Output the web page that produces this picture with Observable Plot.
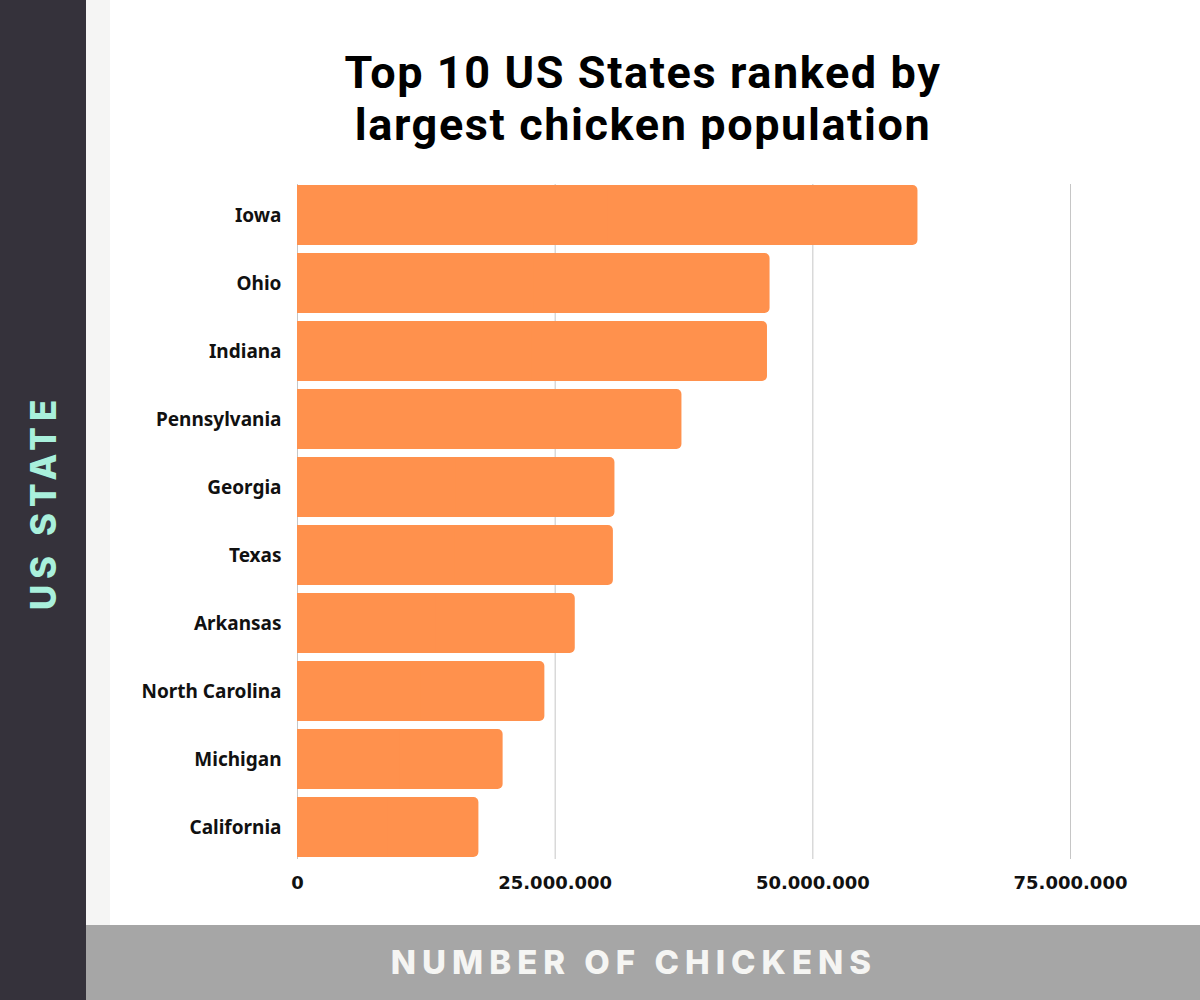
<!DOCTYPE html>
<html>
<head>
<meta charset="utf-8">
<script src="https://cdn.jsdelivr.net/npm/d3@7"></script>
<script src="https://cdn.jsdelivr.net/npm/@observablehq/plot@0.6"></script>
<style>
  html, body { margin: 0; padding: 0; background: #ffffff; }
  #page { position: relative; width: 1200px; height: 1000px; overflow: hidden; background: #ffffff; }
  #sidebar { position: absolute; left: 0; top: 0; width: 86px; height: 1000px; background: #35323b; }
  #strip { position: absolute; left: 86px; top: 0; width: 24px; height: 925px; background: #f5f5f4; }
  #band { position: absolute; left: 86px; top: 925px; width: 1114px; height: 75px; background: #a6a6a6; }
  #xlabel { position: absolute; left: 86px; top: 925px; width: 1114px; height: 75px; line-height: 75px;
    text-align: center; color: #f5f5f3; font-family: Inter, "Open Sans", sans-serif; font-weight: 800;
    font-size: 33px; letter-spacing: 6px; padding-left: 0; padding-right: 18px; box-sizing: border-box; }
  #ylabel { position: absolute; left: 43px; top: 505px; transform: translate(-50%, -50%) rotate(-90deg);
    white-space: nowrap; color: #a9f0dc; font-family: Inter, "Open Sans", sans-serif; font-weight: 800;
    font-size: 35px; letter-spacing: 6px; padding-left: 6px; }
  .title { position: absolute; left: 86px; width: 1114px; text-align: center;
    font-family: Roboto, sans-serif; font-weight: 700; font-size: 45px; line-height: 45px;
    letter-spacing: 1.6px; color: #000; }
  #title1 { top: 50px; }
  #title2 { top: 102px; }
  #chart { position: absolute; left: 110px; top: 0; }
</style>
</head>
<body>
<div id="page">
  <div id="sidebar"></div>
  <div id="strip"></div>
  <div id="band"></div>
  <div id="xlabel">NUMBER OF CHICKENS</div>
  <div id="ylabel">US STATE</div>
  <div class="title" id="title1">Top 10 US States ranked by</div>
  <div class="title" id="title2">largest chicken population</div>
  <div id="chart"></div>
</div>
<script>
const states = ["Iowa", "Ohio", "Indiana", "Pennsylvania", "Georgia", "Texas", "Arkansas", "North Carolina", "Michigan", "California"];
const chickens = [60200000, 45850000, 45600000, 37300000, 30800000, 30650000, 26950000, 24000000, 19950000, 17600000];
const xTicks = [0, 25000000, 50000000, 75000000];

const data = states.map((s, i) => ({state: s, value: chickens[i]}));
const fmt = d3.formatLocale({decimal: ",", thousands: ".", grouping: [3], currency: ["", ""]}).format(",d");
const barColor = "#ff914d";

const chart = Plot.plot({
  width: 1090,
  height: 925,
  marginTop: 184,
  marginBottom: 66,
  marginLeft: 187,
  marginRight: 130,
  style: {background: "transparent", overflow: "visible"},
  x: {domain: [0, 75000000], axis: null},
  y: {domain: states, paddingInner: 0.117, paddingOuter: 0, axis: null},
  marks: [
    Plot.gridX(xTicks, {stroke: "#c6c6c6", strokeOpacity: 1, strokeWidth: 1}),
    // rounded bar (all corners), then a square-cornered bar over its left half
    Plot.barX(data, {x: "value", y: "state", fill: barColor, rx: 5}),
    Plot.barX(data, {x1: 0, x2: d => d.value / 2, y: "state", fill: barColor}),
    Plot.axisX(xTicks, {tickSize: 0, tickPadding: 17, tickFormat: fmt, fontFamily: "DejaVu Sans", fontWeight: "bold", fontSize: 18, fill: "#111", label: null}),
    Plot.axisY({tickSize: 0, tickPadding: 16, fontFamily: "Noto Sans", fontWeight: "bold", fontSize: 19, fill: "#111", label: null})
  ]
});
document.getElementById("chart").appendChild(chart);
</script>
</body>
</html>
